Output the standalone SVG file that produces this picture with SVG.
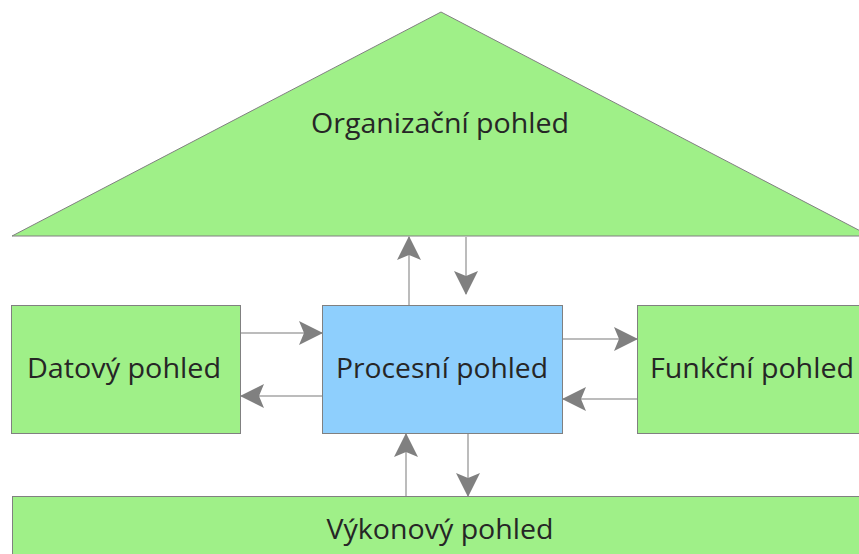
<svg xmlns="http://www.w3.org/2000/svg" width="859" height="554" viewBox="0 0 859 554">
  <style>
    .green { fill: #9ff088; stroke: #808080; stroke-width: 1; }
    .blue { fill: #8ecffd; stroke: #808080; stroke-width: 1; }
    .label { font-family: "Open Sans", "Noto Sans", sans-serif; font-size: 28px; fill: #262626; text-anchor: middle; }
    .link { stroke: #a6a6a6; stroke-width: 1.5; fill: none; marker-end: url(#head); }
  </style>
  <defs>
    <marker id="head" viewBox="0 0 24 24" markerWidth="24" markerHeight="24" refX="23" refY="12" orient="auto" markerUnits="userSpaceOnUse">
      <path d="M24,12 L0,0 L5,12 L0,24 Z" fill="#808080"/>
    </marker>
  </defs>

  <g id="organizacni">
    <polygon class="green" points="441,12 12,236 870,236"/>
    <text class="label" x="440" y="133" textLength="258" lengthAdjust="spacingAndGlyphs">Organizační pohled</text>
  </g>

  <g id="datovy">
    <rect class="green" x="11.5" y="305.5" width="229" height="128"/>
    <text class="label" x="124" y="378" textLength="194" lengthAdjust="spacingAndGlyphs">Datový pohled</text>
  </g>

  <g id="procesni">
    <rect class="blue" x="322.5" y="305.5" width="240" height="128"/>
    <text class="label" x="442" y="378" textLength="212" lengthAdjust="spacingAndGlyphs">Procesní pohled</text>
  </g>

  <g id="funkcni">
    <rect class="green" x="637.5" y="305.5" width="240" height="128"/>
    <text class="label" x="752" y="378" textLength="204" lengthAdjust="spacingAndGlyphs">Funkční pohled</text>
  </g>

  <g id="vykonovy">
    <rect class="green" x="12.5" y="496.5" width="866" height="80"/>
    <text class="label" x="440" y="539" textLength="227" lengthAdjust="spacingAndGlyphs">Výkonový pohled</text>
  </g>

  <g id="connectors">
    <line class="link" x1="241" y1="333" x2="322" y2="333"/>
    <line class="link" x1="322" y1="396" x2="241" y2="396"/>
    <line class="link" x1="563" y1="339" x2="637" y2="339"/>
    <line class="link" x1="637" y1="399" x2="563" y2="399"/>
    <line class="link" x1="409" y1="305" x2="409" y2="237"/>
    <line class="link" x1="466" y1="237" x2="466" y2="294"/>
    <line class="link" x1="406" y1="496" x2="406" y2="434"/>
    <line class="link" x1="468" y1="434" x2="468" y2="496"/>
  </g>
</svg>
